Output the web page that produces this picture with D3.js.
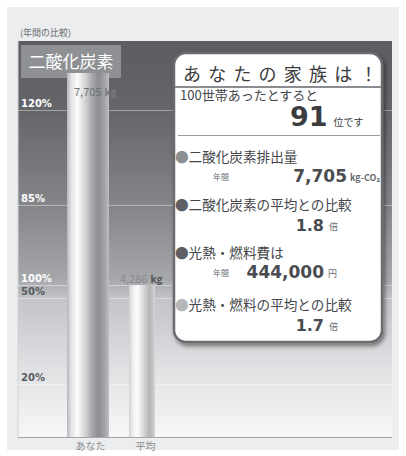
<!DOCTYPE html>
<html>
<head>
<meta charset="utf-8">
<script src="https://cdn.jsdelivr.net/npm/d3@7"></script>
<style>
  html, body { margin: 0; padding: 0; background: #ffffff; }
  svg { display: block; font-family: "Noto Sans CJK JP", "Noto Sans", sans-serif; }
</style>
</head>
<body>
<script>
// Annual CO2 emissions: this household vs. the average household
const categories = ["あなた", "平均"];
const emissions = [7705, 4286];          // kg-CO2 per year
const emissionLabels = ["7,705", "4,286"];

// Reference lines on the left scale (kg) and their percentage labels
const gridValues = [7110, 5580, 4286, 4080, 2700];
const gridLabels = ["120%", "85%", "100%", "50%", "20%"];

// Summary panel contents
const rankPerHundred = 91;
const itemTitles = ["二酸化炭素排出量", "二酸化炭素の平均との比較", "光熱・燃料費は", "光熱・燃料の平均との比較"];
const itemValues = ["7,705", "1.8", "444,000", "1.7"];
const itemUnits = ["kg-CO₂", "倍", "円", "倍"];
const itemPrefix = ["年間", "", "年間", ""];

const W = 406, H = 456;
const plot = { left: 18, right: 392, top: 41, bottom: 437 };

const svg = d3.select("body").append("svg").attr("width", W).attr("height", H);
const defs = svg.append("defs");

// Backdrop panel
svg.append("rect").attr("x", 7).attr("y", 7).attr("width", 392).attr("height", 443).attr("fill", "#ebedee");

// Plot background gradient (dark at top, pale at bottom)
const bg = defs.append("linearGradient").attr("id", "plotBg").attr("x1", 0).attr("y1", 0).attr("x2", 0).attr("y2", 1);
[[0, "#5b5d61"], [0.18, "#64666a"], [0.42, "#84868a"], [0.6, "#a5a7aa"], [0.65, "#c2c4c7"], [0.85, "#e2e4e6"], [1, "#f6f7f8"]]
  .forEach(([o, c]) => bg.append("stop").attr("offset", o).attr("stop-color", c));
svg.append("rect").attr("x", plot.left).attr("y", plot.top)
  .attr("width", plot.right - plot.left).attr("height", plot.bottom - plot.top)
  .attr("fill", "url(#plotBg)");
svg.append("line").attr("x1", plot.left).attr("x2", plot.left).attr("y1", plot.top).attr("y2", plot.bottom)
  .attr("stroke", "#d0d2d4").attr("stroke-width", 1);

const y = d3.scaleLinear().domain([1840, 8220]).range([plot.bottom, plot.top]);
const x = d3.scalePoint().domain(categories).range([88, 142]);
const barWidths = [42, 26];

// Reference lines
svg.append("g").selectAll("line").data(gridValues).join("line")
  .attr("x1", plot.left).attr("x2", plot.right)
  .attr("y1", d => Math.round(y(d)) + 0.5).attr("y2", d => Math.round(y(d)) + 0.5)
  .attr("stroke", "#ffffff").attr("stroke-opacity", 0.4).attr("stroke-width", 1.2);

svg.append("g").selectAll("text").data(gridValues).join("text")
  .attr("x", 21).attr("y", d => y(d) - 3)
  .attr("font-size", 10).attr("font-weight", "bold")
  .attr("font-family", "'DejaVu Sans', sans-serif")
  .attr("fill", (d, i) => i < 3 ? "#ffffff" : "#5a5c60")
  .text((d, i) => gridLabels[i]);

// Section label box
svg.append("rect").attr("x", 21).attr("y", 45).attr("width", 100).attr("height", 33)
  .attr("fill", "#8e9094");

// Cylindrical bar shading
const shades = [
  [[0, "#b4b6b9"], [0.1, "#e2e3e5"], [0.25, "#fbfbfc"], [0.42, "#d6d7d9"], [0.6, "#a6a8ab"], [0.75, "#8b8d91"], [0.9, "#a2a4a7"], [1, "#bdbfc1"]],
  [[0, "#cfd0d2"], [0.15, "#eeeff0"], [0.32, "#fdfdfd"], [0.55, "#d9dadc"], [0.78, "#b2b4b6"], [0.92, "#c4c5c7"], [1, "#d8d9db"]]
];
shades.forEach((stops, i) => {
  const g = defs.append("linearGradient").attr("id", "bar" + i).attr("x1", 0).attr("x2", 1).attr("y1", 0).attr("y2", 0);
  stops.forEach(([o, c]) => g.append("stop").attr("offset", o).attr("stop-color", c));
});

svg.append("g").selectAll("rect").data(emissions).join("rect")
  .attr("x", (d, i) => x(categories[i]) - barWidths[i] / 2)
  .attr("width", (d, i) => barWidths[i])
  .attr("y", d => y(d))
  .attr("height", d => plot.bottom - y(d))
  .attr("fill", (d, i) => `url(#bar${i})`);

// Section label text
svg.append("text").attr("x", 71).attr("y", 68).attr("text-anchor", "middle")
  .attr("font-size", 17).attr("fill", "#ffffff").text("二酸化炭素");

// Value labels above the bars
const valG = svg.append("g").selectAll("text").data(emissions).join("text")
  .attr("x", (d, i) => i === 0 ? 74 : 120)
  .attr("y", (d, i) => y(d) + (i === 0 ? 23 : -2))
  .attr("font-size", 11);
valG.append("tspan").attr("fill", (d, i) => i === 0 ? "#6e7074" : "#86888b").text((d, i) => emissionLabels[i]);
valG.append("tspan").attr("dx", 3).attr("font-weight", "bold").attr("font-size", 10)
  .attr("fill", (d, i) => i === 0 ? "#7a7c80" : "#505256").text("kg");

// Baseline axis
const xAxis = d3.axisBottom(x).tickSize(0).tickPadding(6);
const axG = svg.append("g").attr("transform", `translate(0,${plot.bottom})`).call(xAxis);
axG.select(".domain").remove();
axG.selectAll("text").attr("font-size", 10).attr("fill", "#8a8c8f")
  .attr("font-family", "'Noto Sans CJK JP', sans-serif").attr("dx", (d, i) => i === 0 ? 2 : 3);
svg.append("line").attr("x1", plot.left).attr("x2", plot.right).attr("y1", plot.bottom + 0.5).attr("y2", plot.bottom + 0.5)
  .attr("stroke", "#a4a6a9").attr("stroke-width", 1.2);

// Caption
svg.append("text").attr("x", 20).attr("y", 36).attr("font-size", 9).attr("fill", "#6a6c70").text("(年間の比較)");

// Summary panel
const shadow = defs.append("filter").attr("id", "shadow").attr("x", "-10%").attr("y", "-10%").attr("width", "130%").attr("height", "130%");
shadow.append("feDropShadow").attr("dx", 2).attr("dy", 3).attr("stdDeviation", 2).attr("flood-color", "#000").attr("flood-opacity", 0.45);

const box = { x: 174, y: 53, w: 208, h: 289 };
svg.append("rect").attr("x", box.x).attr("y", box.y).attr("width", box.w).attr("height", box.h)
  .attr("rx", 12).attr("fill", "#ffffff").attr("stroke", "#6a6c70").attr("stroke-width", 2.5)
  .attr("filter", "url(#shadow)");

svg.append("text").attr("x", 183).attr("y", 81).attr("font-size", 18).attr("letter-spacing", 7.2)
  .attr("fill", "#3a3c40").text("あなたの家族は！");
svg.append("line").attr("x1", box.x + 1).attr("x2", box.x + box.w - 1).attr("y1", 87).attr("y2", 87)
  .attr("stroke", "#8a8c90").attr("stroke-width", 2);

svg.append("text").attr("x", 180).attr("y", 100).attr("font-size", 13).attr("fill", "#44464a").text("100世帯あったとすると");
const rank = svg.append("text").attr("x", 290).attr("y", 126).attr("fill", "#3a3c40");
rank.append("tspan").attr("font-size", 27).attr("font-weight", "bold").attr("font-family", "'DejaVu Sans', sans-serif").text(rankPerHundred);
rank.append("tspan").attr("dx", 6).attr("font-size", 10).text("位です");
svg.append("line").attr("x1", 178).attr("x2", 380).attr("y1", 135.5).attr("y2", 135.5)
  .attr("stroke", "#9a9c9f").attr("stroke-width", 1);

const bulletColors = ["#8c8e91", "#5e6064", "#5e6064", "#b4b6b8"];
const itemY = [157, 205, 253, 305];
const items = svg.append("g").selectAll("g").data(itemTitles).join("g")
  .attr("transform", (d, i) => `translate(0,${itemY[i]})`);
const title = items.append("text").attr("x", 175).attr("y", 5).attr("font-size", 13.6).attr("fill", "#44464a");
title.append("tspan").attr("fill", (d, i) => bulletColors[i]).text("●");
title.append("tspan").text(d => d);

items.append("text").attr("x", 213).attr("y", 23)
  .attr("font-size", 8).attr("fill", "#6a6c70").text((d, i) => itemPrefix[i]);
items.append("text").attr("y", (d, i) => i % 2 === 0 ? 25 : 26)
  .attr("x", (d, i) => [347, 324, 324, 324][i]).attr("text-anchor", "end")
  .attr("font-size", (d, i) => i % 2 === 0 ? 17 : 16).attr("font-weight", "bold")
  .attr("font-family", "'DejaVu Sans', sans-serif").attr("fill", "#4a4c50")
  .text((d, i) => itemValues[i]);
items.append("text").attr("x", (d, i) => [350, 329, 328, 329][i]).attr("y", (d, i) => i % 2 === 0 ? 24 : 25)
  .attr("font-size", 9).attr("font-weight", (d, i) => i === 0 ? "bold" : "normal")
  .attr("fill", "#6a6c70").text((d, i) => itemUnits[i]);
</script>
</body>
</html>
